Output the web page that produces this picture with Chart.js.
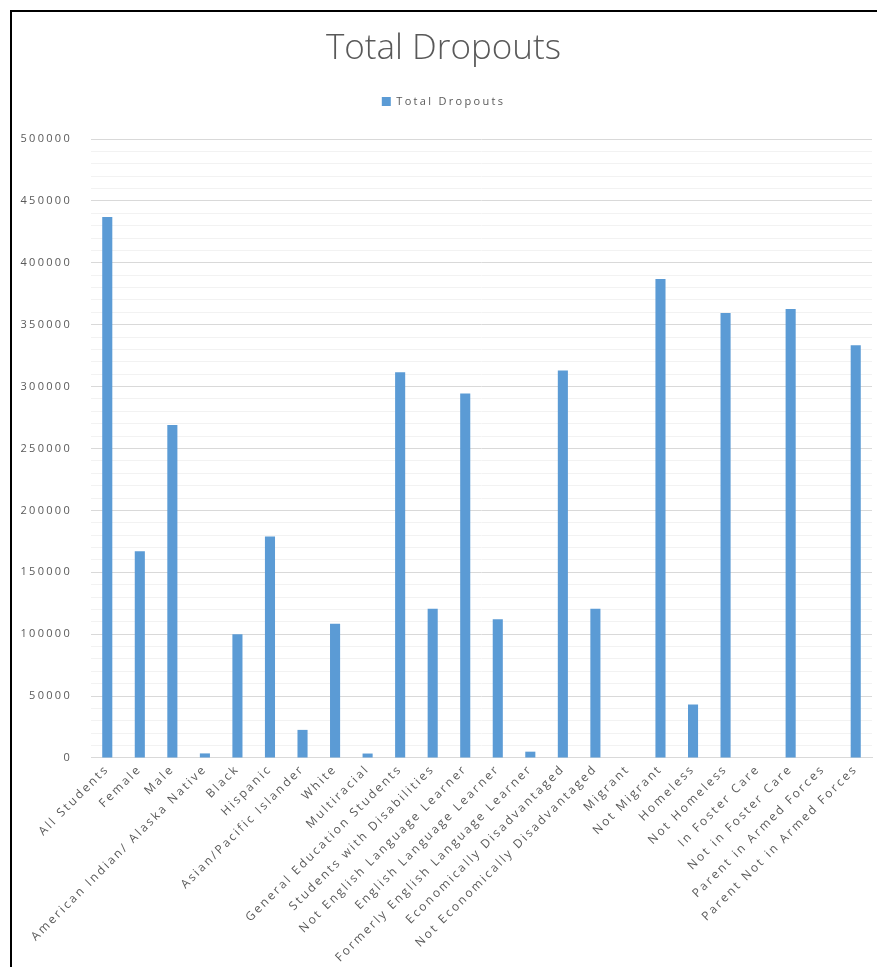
<!DOCTYPE html>
<html>
<head>
<meta charset="utf-8">
<title>Total Dropouts</title>
<script src="https://cdn.jsdelivr.net/npm/chart.js@4/dist/chart.umd.min.js"></script>
<style>
  html, body { margin: 0; padding: 0; background: #fff; overflow: hidden; }
  #box {
    position: absolute; left: 10px; top: 10px;
    width: 867px; height: 959px;
    border-left: 2px solid #000; border-top: 2px solid #000;
    box-sizing: border-box;
  }
  #canvas { display: block; }
</style>
</head>
<body>
<div id="box"><canvas id="canvas"></canvas></div>
<script>
var categories = ["All Students", "Female", "Male", "American Indian/ Alaska Native", "Black", "Hispanic",
  "Asian/Pacific Islander", "White", "Multiracial", "General Education Students", "Students with Disabilities",
  "Not English Language Learner", "English Language Learner", "Formerly English Language Learner",
  "Economically Disadvantaged", "Not Economically Disadvantaged", "Migrant", "Not Migrant", "Homeless",
  "Not Homeless", "In Foster Care", "Not in Foster Care", "Parent in Armed Forces", "Parent Not in Armed Forces"]
var totalDropouts = [437000, 167000, 269000, 3700, 100000, 179000, 22700, 108400, 3600, 311500, 120500,
  294500, 112000, 5100, 313000, 120500, 0, 387000, 43200, 359500, 0, 362700, 0, 333300]
var yTicks = [0, 50000, 100000, 150000, 200000, 250000, 300000, 350000, 400000, 450000, 500000]

var font = "'Open Sans', 'Liberation Sans', sans-serif"
var grey = '#595959'
var loose = '2.3px'

// small Excel-style text is set loose; the title keeps normal spacing,
// and the legend gets some extra room underneath it
var looseText = {
  id: 'looseText',
  beforeInit: function (chart) {
    var title = chart.titleBlock, drawTitle = title.draw
    title.draw = function () {
      this.ctx.letterSpacing = '0px'
      drawTitle.apply(this, arguments)
      this.ctx.letterSpacing = loose
    }
    var legend = chart.legend, fitLegend = legend.fit
    legend.fit = function () {
      fitLegend.apply(this, arguments)
      this.height += 22
    }
  },
  beforeUpdate: function (chart) { chart.ctx.letterSpacing = loose },
  beforeDraw: function (chart) { chart.ctx.letterSpacing = loose }
}

var ctx = document.getElementById("canvas");
var myBarChart = new Chart(ctx, {
  type: 'bar',
  data: {
    labels: categories,
    datasets: [{
      label: "Total Dropouts",
      data: totalDropouts,
      backgroundColor: "#5B9BD5",
      borderColor: "#5B9BD5",
      borderWidth: 0,
      categoryPercentage: 1.0,
      barPercentage: 0.31
    }]
  },
  plugins: [looseText],
  options: {
    responsive: true,
    maintainAspectRatio: false,
    animation: false,
    layout: { padding: { top: 0, right: 5, left: 3, bottom: 0 } },
    plugins: {
      title: {
        display: true,
        text: "Total Dropouts",
        color: grey,
        font: { family: font, size: 35, weight: '300' },
        padding: { top: 16, bottom: 12 }
      },
      legend: {
        labels: {
          color: grey,
          font: { family: font, size: 11 },
          boxWidth: 9,
          boxHeight: 9,
          padding: 14
        }
      },
      tooltip: { enabled: false }
    },
    scales: {
      x: {
        grid: { display: false, drawTicks: false },
        border: { color: '#d9d9d9' },
        ticks: {
          color: grey,
          font: { family: font, size: 12 },
          maxRotation: 45,
          minRotation: 45,
          autoSkip: false,
          padding: 4
        },
        afterFit: function (scale) { scale.paddingLeft = 0 }
      },
      y: {
        min: 0,
        max: 500000,
        grid: {
          drawTicks: false,
          color: function (c) {
            return c.tick && c.tick.value % 50000 === 0 ? '#d9d9d9' : '#f2f2f2'
          }
        },
        border: { display: false },
        ticks: {
          stepSize: 10000,
          autoSkip: false,
          color: grey,
          font: { family: font, size: 11 },
          padding: 19,
          callback: function (v) {
            return yTicks.indexOf(v) >= 0 ? String(v) : ''
          }
        },
        // labels plus the gap to the plot, without the extra padding on the far side
        afterFit: function (scale) { scale.width = 76 }
      }
    }
  }
});
</script>
</body>
</html>
